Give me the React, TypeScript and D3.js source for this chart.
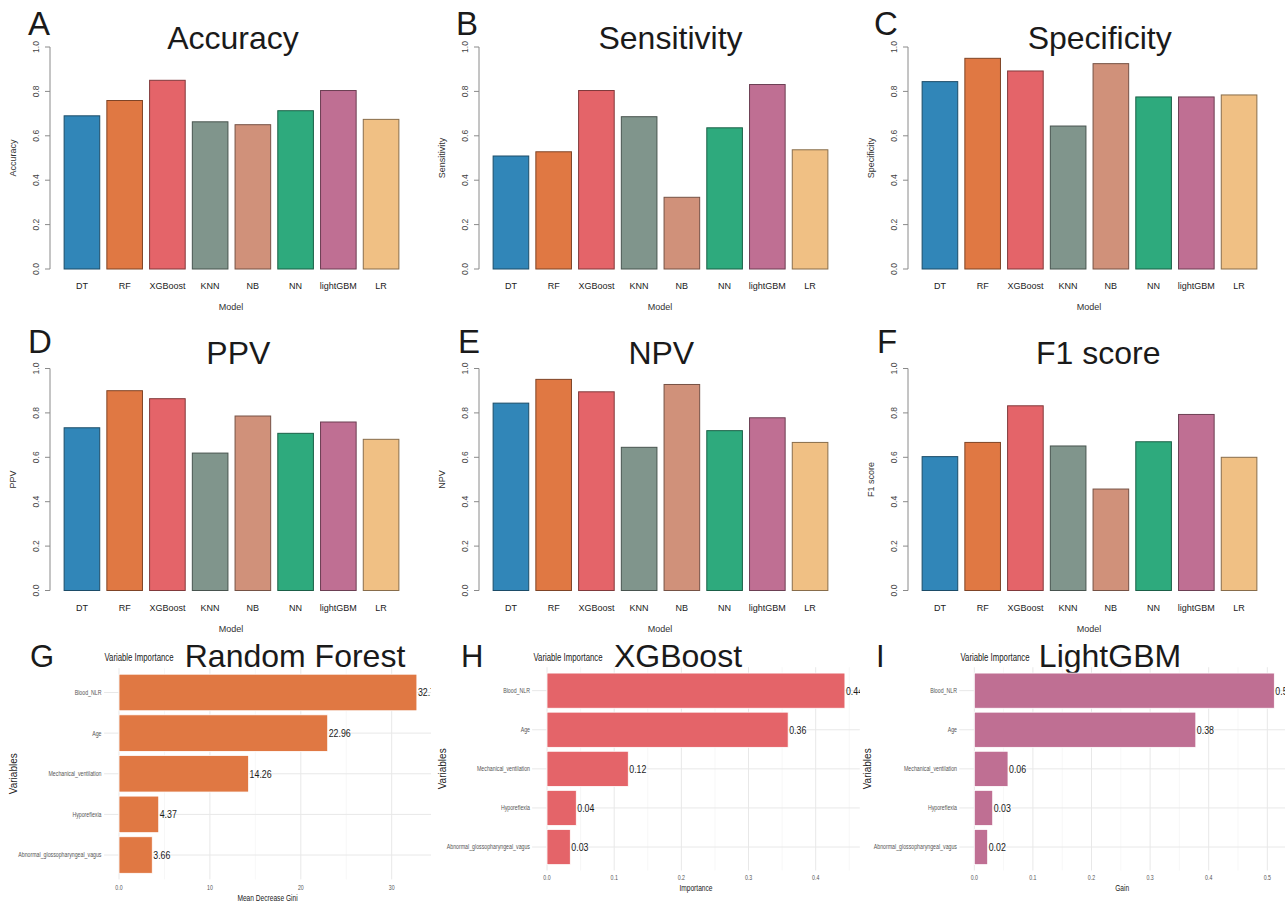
import type { ReactNode } from "react";
import { scaleBand, scaleLinear, range, color, format } from "d3";

const W = 1285;
const H = 903;

// models + colours shared by the metric panels
const models = ["DT", "RF", "XGBoost", "KNN", "NB", "NN", "lightGBM", "LR"];
const modelColors = [
  "#3186B8",
  "#E07843",
  "#E46469",
  "#80958C",
  "#D0917A",
  "#2EAA7D",
  "#BF6F93",
  "#F0C084",
];

const accuracy = [0.69, 0.759, 0.85, 0.663, 0.65, 0.713, 0.804, 0.674];
const sensitivity = [0.509, 0.528, 0.804, 0.686, 0.323, 0.636, 0.831, 0.537];
const specificity = [0.844, 0.949, 0.892, 0.644, 0.925, 0.775, 0.775, 0.784];
const ppv = [0.733, 0.9, 0.864, 0.619, 0.786, 0.708, 0.759, 0.681];
const npv = [0.844, 0.951, 0.895, 0.645, 0.928, 0.72, 0.778, 0.667];
const f1score = [0.603, 0.667, 0.832, 0.651, 0.457, 0.67, 0.793, 0.6];

const yTicks = [0, 0.2, 0.4, 0.6, 0.8, 1.0];

// variable importance panels
const variables = [
  "Blood_NLR",
  "Age",
  "Mechanical_ventilation",
  "Hyporeflexia",
  "Abnormal_glossopharyngeal_vagus",
];
const rfGini = [32.77, 22.96, 14.26, 4.37, 3.66];
const xgbImportance = [0.4435, 0.359, 0.121, 0.0436, 0.0347];
const lgbmGain = [0.512, 0.378, 0.0575, 0.0314, 0.0228];
const rfTicks = [0, 10, 20, 30];
const xgbTicks = [0, 0.1, 0.2, 0.3, 0.4];
const lgbmTicks = [0, 0.1, 0.2, 0.3, 0.4, 0.5];

const sans = "'Liberation Sans', Arial, Helvetica, sans-serif";

const colOffsets = [0, 429, 858];
const rowTops = [0, 321.5];
const titleBase = [49, 42.5];
const letterBase = [35, 31.8];
// the panels were pasted together by hand, so titles/letters sit a bit differently
const titleCenters = [233, 241.5, 241.7, 238.3, 232.3, 240.3];
const letterLefts = [28, 27, 16, 28, 29, 19];

// no narrow font installed, so squeeze Liberation Sans horizontally
const NText = ({
  x,
  y,
  size,
  anchor = "start",
  fill = "#1a1a1a",
  sx = 0.78,
  children,
}: {
  x: number;
  y: number;
  size: number;
  anchor?: "start" | "middle" | "end";
  fill?: string;
  sx?: number;
  children: ReactNode;
}) => (
  <text
    transform={`translate(${x},${y}) scale(${sx},1)`}
    dy="0.35em"
    textAnchor={anchor}
    fontFamily={sans}
    fontSize={size}
    fill={fill}
  >
    {children}
  </text>
);

const MetricPanel = ({
  title,
  letter,
  values,
  idx,
}: {
  title: string;
  letter: string;
  values: number[];
  idx: number;
}) => {
  const ox = colOffsets[idx % 3];
  const row = Math.floor(idx / 3);
  const oy = rowTops[row];
  const y = scaleLinear().domain([0, 1]).range([oy + 269, oy + 47]);
  const x = scaleBand()
    .domain(models)
    .range([ox + 57, ox + 406])
    .paddingInner(1 / 6)
    .paddingOuter(1 / 6);

  return (
    <g>
      <text
        x={ox + letterLefts[idx]}
        y={oy + letterBase[row]}
        fontFamily={sans}
        fontSize={33}
        fill="#1a1a1a"
      >
        {letter}
      </text>
      <text
        x={ox + titleCenters[idx]}
        y={oy + titleBase[row]}
        fontFamily={sans}
        fontSize={32}
        fill="#1a1a1a"
        textAnchor="middle"
      >
        {title}
      </text>
      {/* y axis */}
      <line
        x1={ox + 50}
        x2={ox + 50}
        y1={y(0)}
        y2={y(1)}
        stroke="#8a8a8a"
        strokeWidth={1}
      />
      {yTicks.map((t) => (
        <g key={t}>
          <line
            x1={ox + 45}
            x2={ox + 50}
            y1={y(t)}
            y2={y(t)}
            stroke="#8a8a8a"
          />
          <text
            transform={`translate(${ox + 36},${y(t)}) rotate(-90)`}
            dy="0.35em"
            textAnchor="middle"
            fontFamily={sans}
            fontSize={8.5}
            fill="#444"
          >
            {t.toFixed(1)}
          </text>
        </g>
      ))}
      <text
        transform={`translate(${ox + 13},${(y(0) + y(1)) / 2}) rotate(-90)`}
        dy="0.35em"
        textAnchor="middle"
        fontFamily={sans}
        fontSize={9}
        fill="#333"
      >
        {title}
      </text>
      {models.map((m, i) => (
        <g key={m}>
          <rect
            x={x(m)}
            y={y(values[i])}
            width={x.bandwidth()}
            height={y(0) - y(values[i])}
            fill={modelColors[i]}
            stroke={color(modelColors[i])!.darker(1.6).toString()}
            strokeWidth={1}
          />
          <text
            x={x(m)! + x.bandwidth() / 2}
            y={oy + 286}
            dy="0.35em"
            textAnchor="middle"
            fontFamily={sans}
            fontSize={9}
            fill="#222"
          >
            {m}
          </text>
        </g>
      ))}
      <text
        x={ox + 231}
        y={oy + 307}
        dy="0.35em"
        textAnchor="middle"
        fontFamily={sans}
        fontSize={9}
        fill="#333"
      >
        Model
      </text>
    </g>
  );
};

const ImportancePanel = ({
  id,
  letter,
  title,
  xTitle,
  values,
  ticks,
  fill,
  zeroX,
  refVal,
  refX,
  bandTop,
  bandBottom,
  labelRight,
  clipLeft,
  clipRight,
  tickY,
  xTitleY,
  varX,
  letterX,
  viX,
  titleX,
}: {
  id: string;
  letter: string;
  title: string;
  xTitle: string;
  values: number[];
  ticks: number[];
  fill: string;
  zeroX: number;
  refVal: number;
  refX: number;
  bandTop: number;
  bandBottom: number;
  labelRight: number;
  clipLeft: number;
  clipRight: number;
  tickY: number;
  xTitleY: number;
  varX: number;
  letterX: number;
  viX: number;
  titleX: number;
}) => {
  const x = scaleLinear().domain([0, refVal]).range([zeroX, refX]);
  const max = Math.max(...values);
  const lo = -0.05 * max;
  const hi = 1.05 * max;
  const y = scaleBand()
    .domain(variables)
    .range([bandTop, bandBottom])
    .paddingInner(0.1)
    .paddingOuter(0.15);
  const step = ticks[1] - ticks[0];
  const minor = range(0, ticks.length + 1)
    .map((i) => (i + 0.5) * step)
    .filter((v) => v < hi);
  const fmt = format(".2f");

  return (
    <g>
      <defs>
        <clipPath id={id}>
          <rect x={clipLeft} y={640} width={clipRight - clipLeft} height={263} />
        </clipPath>
      </defs>
      <text x={letterX} y={667} fontFamily={sans} fontSize={31} fill="#1a1a1a">
        {letter}
      </text>
      <NText x={viX} y={657} size={10} anchor="middle">
        Variable Importance
      </NText>
      <text
        x={titleX}
        y={667}
        textAnchor="middle"
        fontFamily={sans}
        fontSize={32}
        fill="#1a1a1a"
      >
        {title}
      </text>
      <g clipPath={`url(#${id})`}>
        {minor.map((v) => (
          <line
            key={`mn${v}`}
            x1={x(v)}
            x2={x(v)}
            y1={bandTop}
            y2={bandBottom}
            stroke="#f2f2f2"
            strokeWidth={0.6}
          />
        ))}
        {ticks.map((v) => (
          <line
            key={`mj${v}`}
            x1={x(v)}
            x2={x(v)}
            y1={bandTop}
            y2={bandBottom}
            stroke="#e8e8e8"
            strokeWidth={1}
          />
        ))}
        {variables.map((v) => (
          <line
            key={`h${v}`}
            x1={x(lo)}
            x2={x(hi)}
            y1={y(v)! + y.bandwidth() / 2}
            y2={y(v)! + y.bandwidth() / 2}
            stroke="#e8e8e8"
            strokeWidth={1}
          />
        ))}
        {variables.map((v, i) => (
          <g key={v}>
            <rect
              x={x(0)}
              y={y(v)}
              width={x(values[i]) - x(0)}
              height={y.bandwidth()}
              fill={fill}
              stroke="#ffffff"
              strokeWidth={0.8}
            />
            <NText
              x={x(values[i]) + 1}
              y={y(v)! + y.bandwidth() / 2}
              size={11}
              sx={0.8}
            >
              {fmt(values[i])}
            </NText>
          </g>
        ))}
      </g>
      {variables.map((v) => (
        <NText
          key={`yl${v}`}
          x={labelRight}
          y={y(v)! + y.bandwidth() / 2}
          size={7}
          sx={0.75}
          anchor="end"
          fill="#555"
        >
          {v}
        </NText>
      ))}
      {ticks.map((t) => (
        <NText
          key={`xl${t}`}
          x={x(t)}
          y={tickY}
          size={7}
          sx={0.75}
          anchor="middle"
          fill="#555"
        >
          {t >= 1 ? String(t) : t.toFixed(1)}
        </NText>
      ))}
      <NText
        x={(x(lo) + Math.min(x(hi), clipRight)) / 2}
        y={xTitleY}
        size={8.5}
        anchor="middle"
      >
        {xTitle}
      </NText>
      <text
        transform={`translate(${varX},${(bandTop + bandBottom) / 2}) rotate(-90)`}
        dy="0.35em"
        textAnchor="middle"
        fontFamily={sans}
        fontSize={10}
        fill="#1a1a1a"
      >
        Variables
      </text>
    </g>
  );
};

export default function App() {
  const metrics = [
    { title: "Accuracy", letter: "A", values: accuracy },
    { title: "Sensitivity", letter: "B", values: sensitivity },
    { title: "Specificity", letter: "C", values: specificity },
    { title: "PPV", letter: "D", values: ppv },
    { title: "NPV", letter: "E", values: npv },
    { title: "F1 score", letter: "F", values: f1score },
  ];

  return (
    <svg
      width={W}
      height={H}
      viewBox={`0 0 ${W} ${H}`}
      style={{ position: "absolute", left: 0, top: 0, background: "#fff" }}
    >
      <rect width={W} height={H} fill="#fff" />
      {metrics.map((m, i) => (
        <MetricPanel
          key={m.title}
          title={m.title}
          letter={m.letter}
          values={m.values}
          idx={i}
        />
      ))}
      <ImportancePanel
        id="clipG"
        letter="G"
        title="Random Forest"
        xTitle="Mean Decrease Gini"
        values={rfGini}
        ticks={rfTicks}
        fill="#E07843"
        zeroX={119}
        refVal={30}
        refX={391.7}
        bandTop={668.1}
        bandBottom={879.4}
        labelRight={101.5}
        clipLeft={0}
        clipRight={431}
        tickY={888}
        xTitleY={898}
        varX={13}
        letterX={30}
        viX={139}
        titleX={295}
      />
      <ImportancePanel
        id="clipH"
        letter="H"
        title="XGBoost"
        xTitle="Importance"
        values={xgbImportance}
        ticks={xgbTicks}
        fill="#E46469"
        zeroX={547}
        refVal={0.4}
        refX={815.7}
        bandTop={667.2}
        bandBottom={870.5}
        labelRight={530}
        clipLeft={431}
        clipRight={860}
        tickY={878}
        xTitleY={888}
        varX={442}
        letterX={461}
        viX={568}
        titleX={678}
      />
      <ImportancePanel
        id="clipI"
        letter="I"
        title="LightGBM"
        xTitle="Gain"
        values={lgbmGain}
        ticks={lgbmTicks}
        fill="#BF6F93"
        zeroX={974.3}
        refVal={0.5}
        refX={1267.3}
        bandTop={667.2}
        bandBottom={870.5}
        labelRight={957}
        clipLeft={860}
        clipRight={1285}
        tickY={878}
        xTitleY={888}
        varX={867}
        letterX={876}
        viX={995}
        titleX={1110}
      />
    </svg>
  );
}
